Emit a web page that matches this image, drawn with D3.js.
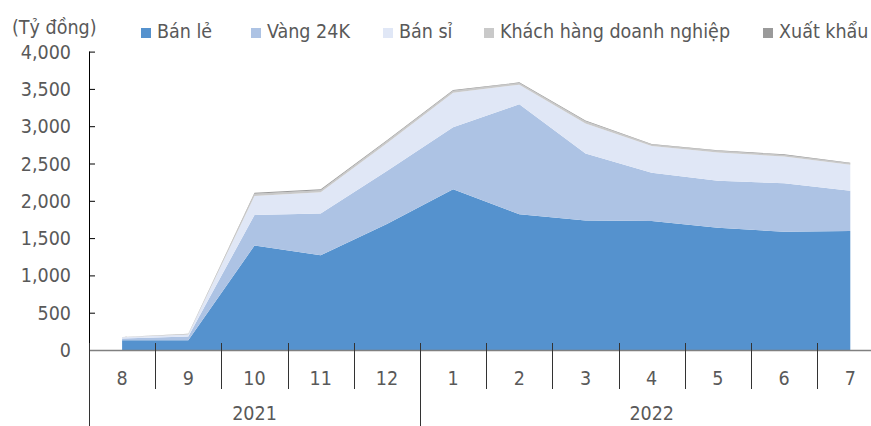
<!DOCTYPE html>
<html><head><meta charset="utf-8">
<script src="https://cdn.jsdelivr.net/npm/d3@7/dist/d3.min.js"></script>
<style>
html,body{margin:0;padding:0;background:#fff;}
text{font-family:"DejaVu Sans Condensed","DejaVu Sans",sans-serif;font-stretch:condensed;fill:#595959;}
</style></head>
<body><svg id="c" width="871" height="426"></svg>
<script>
const months = ["8","9","10","11","12","1","2","3","4","5","6","7"];
const years = [{label:"2021", from:0, to:5},{label:"2022", from:5, to:12}];
const seriesNames = ["Bán lẻ","Vàng 24K","Bán sỉ","Khách hàng doanh nghiệp","Xuất khẩu"];
const banLe   = [130,130,1400,1270,1690,2155,1820,1735,1730,1640,1585,1595];
const vang24k = [25,50,410,560,710,830,1475,900,645,630,650,540];
const banSi   = [15,28,255,285,372,462,262,402,358,378,358,348];
const khdn    = [4,7,30,28,28,28,22,28,22,22,22,21];
const xuatKhau= [1,2,14,12,10,10,9,12,8,8,8,7];
const yTicks = [0,500,1000,1500,2000,2500,3000,3500,4000];
const colors = ["#5592CE","#ADC3E4","#E0E7F6","#C9C9C9","#9A9A9A"];

const rows = months.map((m,i)=>({m, s0:banLe[i], s1:vang24k[i], s2:banSi[i], s3:khdn[i], s4:xuatKhau[i]}));
const keys = ["s0","s1","s2","s3","s4"];
const stack = d3.stack().keys(keys)(rows);

const svg = d3.select("#c");
const mLeft = 89, mBottom = 350, mTop = 51.6, step = 66.2;
const x = d3.scaleBand().domain(months).range([mLeft, mLeft + step*months.length]).paddingInner(0).paddingOuter(0);
const y = d3.scaleLinear().domain([0,4000]).range([mBottom, mTop]);
const cx = m => x(m) + x.bandwidth()/2;

const area = d3.area().x(d=>cx(d.data.m)).y0(d=>y(d[0])).y1(d=>y(d[1]));
svg.append("g").selectAll("path").data(stack).join("path")
  .attr("d", area).attr("fill",(d,i)=>colors[i]);

// y axis
const ya = svg.append("g").attr("transform",`translate(${mLeft},0)`)
  .call(d3.axisRight(y).tickValues(yTicks).tickSize(6).tickFormat(""));
ya.select(".domain").attr("stroke","#000").attr("d",`M0.5,${mTop}V${mBottom}`);
ya.selectAll(".tick line").attr("stroke","#000");
svg.append("g").selectAll("text").data(yTicks).join("text")
  .attr("x",71).attr("y",d=>y(d)).attr("dy","0.36em").attr("text-anchor","end")
  .attr("font-size","19.5px").text(d=>d3.format(",")(d));

// x axis line
svg.append("line").attr("x1",mLeft).attr("x2",871).attr("y1",mBottom+0.5).attr("y2",mBottom+0.5)
  .attr("stroke","#808080").attr("stroke-width",1.5);
// category ticks
const bounds = months.slice(1).map(m=>x(m));
svg.append("g").selectAll("line").data(bounds).join("line")
  .attr("x1",d=>Math.round(d)+0.5).attr("x2",d=>Math.round(d)+0.5)
  .attr("y1",343).attr("y2",389).attr("stroke","#333");
// year dividers
const ydiv = [x(months[0]), x(months[5])];
svg.append("g").selectAll("line").data(ydiv).join("line")
  .attr("x1",d=>Math.round(d)+0.5).attr("x2",d=>Math.round(d)+0.5)
  .attr("y1",343).attr("y2",426).attr("stroke","#333");
// month labels
svg.append("g").selectAll("text").data(months).join("text")
  .attr("x",d=>cx(d)).attr("y",385).attr("text-anchor","middle").attr("font-size","19.5px").text(d=>d);
// year labels
svg.append("g").selectAll("text").data(years).join("text")
  .attr("x",d=>(x(months[d.from]) + (d.to<months.length ? x(months[d.to]) : x.range()[1]))/2)
  .attr("y",420).attr("text-anchor","middle").attr("font-size","19.5px").text(d=>d.label);

// unit label
svg.append("text").attr("x",12).attr("y",34).attr("font-size","19.5px").text("(Tỷ đồng)");

// legend
const legX = [141,251,383,484,763];
const lg = svg.append("g").selectAll("g").data(seriesNames).join("g")
  .attr("transform",(d,i)=>`translate(${legX[i]},0)`);
lg.append("rect").attr("x",0).attr("y",28).attr("width",10).attr("height",10).attr("fill",(d,i)=>colors[i]);
lg.append("text").attr("x",16).attr("y",38).attr("font-size","19.5px").text(d=>d);
</script></body></html>
